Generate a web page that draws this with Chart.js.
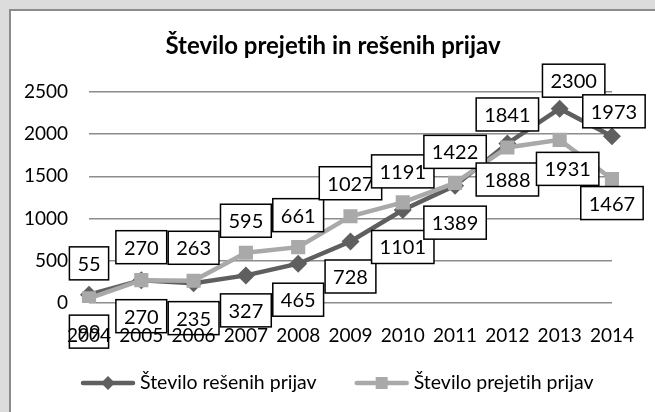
<!DOCTYPE html>
<html>
<head>
<meta charset="utf-8">
<script src="https://cdn.jsdelivr.net/npm/chart.js@4.4.0/dist/chart.umd.min.js"></script>
<style>
  html, body { margin: 0; padding: 0; background: #dcdcdc; }
  #wrap {
    position: absolute; left: 9px; top: 9px; width: 644px; height: 401px;
    background: #fff; border-left: 2px solid #8c8c8c; border-top: 2px solid #8c8c8c;
  }
  canvas { display: block; }
</style>
</head>
<body>
<div id="wrap"><canvas id="line-chart" width="644" height="401"></canvas></div>
<script>
const years = ["2004", "2005", "2006", "2007", "2008", "2009", "2010", "2011", "2012", "2013", "2014"];
const resene = [99, 270, 235, 327, 465, 728, 1101, 1389, 1888, 2300, 1973];
const prejete = [55, 270, 263, 595, 661, 1027, 1191, 1422, 1841, 1931, 1467];
const yTicks = [0, 500, 1000, 1500, 2000, 2500];
const seriesNames = ["Število rešenih prijav", "Število prejetih prijav"];

// where each data label box sits relative to its point (style only)
const reseneDy = [37, 36, 35, 35, 36, 35, 37, 37, 36, -28, -25];
const reseneDx = [0, 0, 0, 0, 0, 0, 0, 0, 0, 14, 2];
const prejeteDy = [-35, -33, -33, -32, -32, -33, -31, -31, -33, 29, 24];
const prejeteDx = [0, 0, 0, 0, 0, 0, 0, 0, 0, 8, 0];

const dark = "#5f5f5f";
const light = "#a9a9a9";
const font = "Lato";

function legendIcon(color, style) {
  const cv = document.createElement("canvas");
  cv.width = 56;
  cv.height = 20;
  const g = cv.getContext("2d");
  g.strokeStyle = color;
  g.fillStyle = color;
  g.lineWidth = 4.5;
  g.lineCap = "round";
  g.beginPath();
  g.moveTo(3, 10);
  g.lineTo(53, 10);
  g.stroke();
  if (style === "diamond") {
    g.beginPath();
    g.moveTo(28, 3);
    g.lineTo(35, 10);
    g.lineTo(28, 17);
    g.lineTo(21, 10);
    g.closePath();
    g.fill();
  } else {
    g.fillRect(22, 4, 12, 12);
  }
  return cv;
}
const icons = [legendIcon(dark, "diamond"), legendIcon(light, "square")];

const dataLabels = {
  id: "dataLabels",
  beforeDraw(chart) {
    // no "ti" ligature, like the original
    chart.ctx.textRendering = "optimizeSpeed";
  },
  afterDatasetsDraw(chart) {
    const ctx = chart.ctx;
    const offs = [[reseneDx, reseneDy], [prejeteDx, prejeteDy]];
    ctx.save();
    ctx.font = "20px " + font;
    ctx.textAlign = "center";
    ctx.textBaseline = "middle";
    for (let i = 0; i < years.length; i++) {
      for (let d = 0; d < 2; d++) {
        const pt = chart.getDatasetMeta(d).data[i];
        const txt = String(chart.data.datasets[d].data[i]);
        const x = pt.x + offs[d][0][i];
        const y = pt.y + offs[d][1][i];
        const w = ctx.measureText(txt).width + 16;
        const h = 33;
        ctx.fillStyle = "#fff";
        ctx.fillRect(x - w / 2, y - h / 2, w, h);
        ctx.lineWidth = 1.5;
        ctx.strokeStyle = "#000";
        ctx.strokeRect(x - w / 2, y - h / 2, w, h);
        ctx.fillStyle = "#000";
        ctx.fillText(txt, x, y + 1);
      }
    }
    ctx.restore();
  },
  afterDraw(chart) {
    // legend: line with marker, then text
    const ctx = chart.ctx;
    ctx.save();
    ctx.font = "19.5px " + font;
    ctx.textBaseline = "middle";
    ctx.fillStyle = "#000";
    const y = 372;
    let x = 69;
    for (let d = 0; d < 2; d++) {
      ctx.drawImage(icons[d], x, y - 10);
      ctx.fillText(seriesNames[d], x + 60, y);
      x += 60 + ctx.measureText(seriesNames[d]).width + 37;
    }
    ctx.restore();
  }
};

new Chart(document.getElementById("line-chart"), {
  type: "line",
  data: {
    labels: years,
    datasets: [
      {
        label: seriesNames[0],
        data: resene,
        borderColor: dark,
        backgroundColor: dark,
        borderWidth: 4.5,
        pointStyle: "rectRot",
        pointRadius: 9,
        pointBorderWidth: 0,
        order: 2,
        fill: false
      },
      {
        label: seriesNames[1],
        data: prejete,
        borderColor: light,
        backgroundColor: light,
        borderWidth: 4.5,
        pointStyle: "rect",
        pointRadius: 10,
        pointBorderWidth: 0,
        order: 1,
        fill: false
      }
    ]
  },
  options: {
    responsive: false,
    animation: false,
    layout: { padding: 0 },
    plugins: {
      legend: { display: false },
      tooltip: { enabled: false },
      title: {
        display: true,
        text: "Število prejetih in rešenih prijav",
        color: "#000",
        font: { family: font, size: 24, weight: "bold", lineHeight: 1.2 },
        padding: { top: 21, bottom: 31 }
      }
    },
    scales: {
      x: {
        grid: { display: false, drawTicks: false },
        border: { display: false },
        ticks: { z: 1, color: "#000", font: { family: font, size: 19 }, padding: 21, maxRotation: 0, autoSkip: false },
        afterFit(s) { s.height = 109; }
      },
      y: {
        min: 0,
        max: 2500,
        afterBuildTicks(s) { s.ticks = yTicks.map(v => ({ value: v })); },
        grid: { color: "#8c8c8c", lineWidth: 1.5, drawTicks: false },
        border: { display: false },
        ticks: { color: "#000", font: { family: font, size: 19 }, padding: 21, callback: v => String(v) },
        afterFit(s) { s.width = 78; }
      },
      // empty right margin so the title centres on the whole box
      yRight: {
        position: "right",
        display: true,
        grid: { display: false, drawTicks: false },
        border: { display: false },
        ticks: { display: false },
        afterFit(s) { s.width = 22; }
      }
    }
  },
  plugins: [dataLabels]
});
</script>
</body>
</html>
